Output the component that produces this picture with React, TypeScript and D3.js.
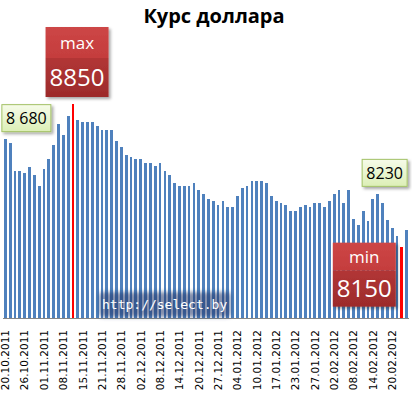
import React, { useEffect, useRef } from 'react';
import * as d3 from 'd3';

const title = 'Курс доллара';

const rates: number[] = [
  8680, 8660, 8520, 8520, 8510, 8540, 8500, 8450, 8530, 8580,
  8650, 8750, 8700, 8790, 8850, 8770, 8760, 8760, 8760, 8740,
  8720, 8720, 8720, 8670, 8640, 8600, 8590, 8580, 8580, 8560,
  8560, 8545, 8560, 8520, 8500, 8460, 8450, 8450, 8450, 8460,
  8430, 8410, 8385, 8375, 8355, 8375, 8345, 8345, 8400, 8440,
  8450, 8470, 8470, 8470, 8460, 8400, 8375, 8365, 8355, 8325,
  8325, 8345, 8355, 8345, 8365, 8365, 8345, 8375, 8410, 8430,
  8365, 8430, 8285, 8255, 8325, 8275, 8385, 8410, 8365, 8280,
  8240, 8200, 8150, 8230,
];

const tickLabels: string[] = [
  '20.10.2011', '26.10.2011', '01.11.2011', '08.11.2011', '15.11.2011',
  '21.11.2011', '28.11.2011', '02.12.2011', '08.12.2011', '14.12.2011',
  '20.12.2011', '27.12.2011', '04.01.2012', '10.01.2012', '17.01.2012',
  '23.01.2012', '27.01.2012', '02.02.2012', '08.02.2012', '14.02.2012',
  '20.02.2012',
];
const tickStep = 4;

const maxCaption = 'max';
const minCaption = 'min';
const firstValueText = '8 680';
const watermark = 'http://select.by';

export default function App() {
  const ref = useRef<SVGSVGElement>(null);

  useEffect(() => {
    const svg = d3.select(ref.current);
    svg.selectAll('*').remove();

    const defs = svg.append('defs');
    const sh = defs.append('filter').attr('id', 'shadow').attr('x', '-20%').attr('y', '-20%').attr('width', '150%').attr('height', '150%');
    sh.append('feDropShadow').attr('dx', 2).attr('dy', 2).attr('stdDeviation', 1.5).attr('flood-color', '#000').attr('flood-opacity', 0.35);
    const blur = defs.append('filter').attr('id', 'blur').attr('x', '-20%').attr('y', '-50%').attr('width', '140%').attr('height', '200%');
    blur.append('feGaussianBlur').attr('stdDeviation', 2);

    const gGreen = defs.append('linearGradient').attr('id', 'green').attr('x1', 0).attr('y1', 0).attr('x2', 0).attr('y2', 1);
    gGreen.append('stop').attr('offset', '0%').attr('stop-color', '#f6fbe9');
    gGreen.append('stop').attr('offset', '100%').attr('stop-color', '#dcefb6');
    const gTop = defs.append('linearGradient').attr('id', 'redTop').attr('x1', 0).attr('y1', 0).attr('x2', 0).attr('y2', 1);
    gTop.append('stop').attr('offset', '0%').attr('stop-color', '#cd4646');
    gTop.append('stop').attr('offset', '100%').attr('stop-color', '#c43d3d');
    const gBot = defs.append('linearGradient').attr('id', 'redBot').attr('x1', 0).attr('y1', 0).attr('x2', 0).attr('y2', 1);
    gBot.append('stop').attr('offset', '0%').attr('stop-color', '#b23636');
    gBot.append('stop').attr('offset', '100%').attr('stop-color', '#9c2b2b');

    const x = d3.scaleBand<number>()
      .domain(d3.range(rates.length))
      .range([3, 409])
      .paddingInner(0.42)
      .paddingOuter(0.2);
    const y = d3.scaleLinear().domain([7800, 8850]).range([318, 104]);
    const bw = x.bandwidth();
    const cx = (i: number) => (x(i) as number) + bw / 2;

    const maxI = d3.maxIndex(rates);
    const minI = d3.minIndex(rates);
    const lastI = rates.length - 1;

    // title
    svg.append('text')
      .attr('x', 214).attr('y', 23)
      .attr('text-anchor', 'middle')
      .attr('font-family', '"Open Sans", sans-serif')
      .attr('font-weight', 'bold')
      .attr('font-size', 20)
      .attr('fill', '#000')
      .text(title);

    // bars
    svg.append('g')
      .selectAll('rect')
      .data(rates)
      .join('rect')
      .attr('x', (_, i) => x(i) as number)
      .attr('width', bw)
      .attr('y', (d) => y(d))
      .attr('height', (d) => y.range()[0] - y(d))
      .attr('shape-rendering', 'crispEdges')
      .attr('fill', (_, i) => (i === maxI || i === minI ? '#ff0000' : '#4f81bd'));

    // axis line
    svg.append('line')
      .attr('x1', x.range()[0]).attr('x2', x.range()[1])
      .attr('y1', 318.5).attr('y2', 318.5)
      .attr('stroke', '#868686').attr('stroke-width', 1);

    // tick labels
    svg.append('g')
      .selectAll('text')
      .data(tickLabels)
      .join('text')
      .attr('transform', (_, k) => `translate(${cx(k * tickStep)},330) rotate(-90)`)
      .attr('text-anchor', 'end')
      .attr('dy', '0.36em')
      .attr('font-family', '"DejaVu Sans", sans-serif')
      .attr('font-size', 10.5)
      .attr('fill', '#000')
      .text((d) => d);

    // watermark
    const wm = svg.append('g');
    wm.append('rect')
      .attr('x', 99).attr('y', 292).attr('width', 132).attr('height', 25).attr('rx', 4)
      .attr('fill', 'rgba(35,55,105,0.55)')
      .attr('filter', 'url(#blur)');
    wm.append('text')
      .attr('x', 102).attr('y', 309)
      .attr('font-family', '"DejaVu Sans Mono", monospace')
      .attr('font-size', 13)
      .attr('fill', '#ffffff')
      .text(watermark);

    // green value labels
    const greenLabel = (bx: number, by: number, w: number, h: number, txt: string) => {
      const g = svg.append('g');
      g.append('rect').attr('x', bx).attr('y', by).attr('width', w).attr('height', h)
        .attr('fill', 'url(#green)').attr('stroke', '#a3c266').attr('stroke-width', 1)
        .attr('filter', 'url(#shadow)');
      g.append('text').attr('x', bx + w / 2).attr('y', by + h / 2).attr('dy', '0.36em')
        .attr('text-anchor', 'middle')
        .attr('font-family', '"Open Sans", sans-serif').attr('font-size', 16).attr('fill', '#000')
        .text(txt);
    };
    greenLabel(cx(0) - 3.5, y(rates[0]) - 34, 49, 27, firstValueText);
    greenLabel(cx(lastI) - 44.5, y(rates[lastI]) - 71, 45, 27, String(rates[lastI]));

    // red labels
    const redLabel = (bx: number, by: number, w: number, h: number, split: number, cap: string, val: string) => {
      const g = svg.append('g').attr('filter', 'url(#shadow)');
      g.append('rect').attr('x', bx).attr('y', by).attr('width', w).attr('height', split).attr('fill', 'url(#redTop)');
      g.append('rect').attr('x', bx).attr('y', by + split).attr('width', w).attr('height', h - split).attr('fill', 'url(#redBot)');
      svg.append('text').attr('x', bx + w / 2).attr('y', by + split / 2).attr('dy', '0.36em')
        .attr('text-anchor', 'middle')
        .attr('font-family', '"Open Sans", sans-serif').attr('font-size', 17).attr('fill', '#fff')
        .text(cap);
      svg.append('text').attr('x', bx + w / 2).attr('y', by + split + (h - split) / 2).attr('dy', '0.36em')
        .attr('text-anchor', 'middle')
        .attr('font-family', '"Open Sans", sans-serif').attr('font-size', 24).attr('fill', '#fff')
        .text(val);
    };
    redLabel(cx(maxI) - 27.5, y(rates[maxI]) - 77, 63, 70, 31, maxCaption, String(rates[maxI]));
    redLabel(cx(minI) - 69, y(rates[minI]) - 4, 63, 64, 28, minCaption, String(rates[minI]));
  }, []);

  return (
    <svg
      ref={ref}
      width={412}
      height={394}
      style={{ position: 'absolute', left: 0, top: 0, background: '#fff' }}
    />
  );
}
